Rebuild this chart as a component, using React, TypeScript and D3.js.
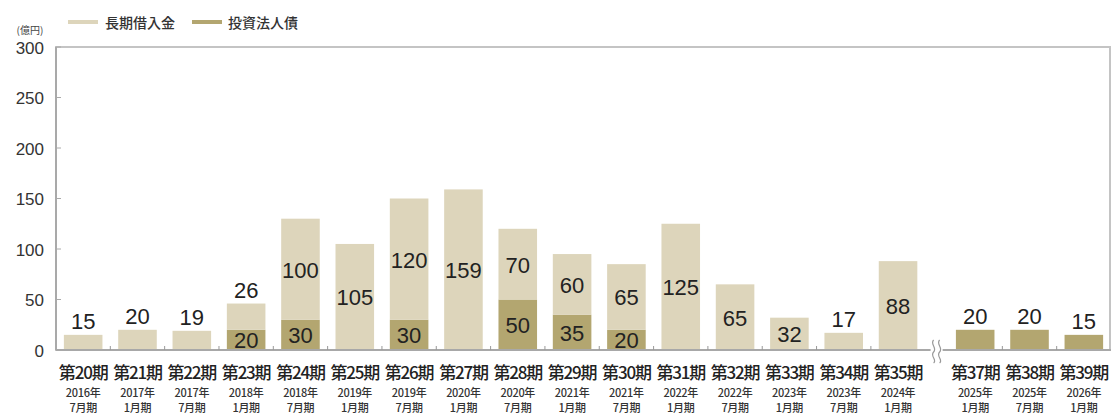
import React from "react";
import * as d3 from "d3";

const categories = ["第20期","第21期","第22期","第23期","第24期","第25期","第26期","第27期","第28期","第29期","第30期","第31期","第32期","第33期","第34期","第35期","第37期","第38期","第39期"];
const years = ["2016年","2017年","2017年","2018年","2018年","2019年","2019年","2020年","2020年","2021年","2021年","2022年","2022年","2023年","2023年","2024年","2025年","2025年","2026年"];
const months = ["7月期","1月期","7月期","1月期","7月期","1月期","7月期","1月期","7月期","1月期","7月期","1月期","7月期","1月期","7月期","1月期","1月期","7月期","1月期"];
const bonds = [0,0,0,20,30,0,30,0,50,35,20,0,0,0,0,0,20,20,15];
const loans = [15,20,19,26,100,105,120,159,70,60,65,125,65,32,17,88,0,0,0];
const yTicks = [0,50,100,150,200,250,300];
const seriesNames = ["長期借入金","投資法人債"];
const breakAfter = 15;

const W = 1111, H = 417;
const LEFT = 56, RIGHT = 1111, TOP = 47, BOTTOM = 350;
const GAP = 0.42;
const LIGHT = "#ddd5bb";
const DARK = "#b3a670";
const NUM_FONT = "'Liberation Sans', Arial, sans-serif";
const CJK_FONT = "'Noto Sans CJK JP', 'Noto Sans', sans-serif";

export default function App() {
  const rows = categories.map((c, i) => ({ cat: c, bond: bonds[i], loan: loans[i] }));
  const stack = d3.stack<any>().keys(["bond", "loan"]);
  const layers = stack(rows);
  const totalSlots = categories.length + GAP;
  const x = d3.scaleLinear().domain([0, totalSlots]).range([LEFT, RIGHT]);
  const slot = (i: number) => (i > breakAfter ? i + GAP : i);
  const step = x(1) - x(0);
  const bw = step * 0.71;
  const y = d3.scaleLinear().domain([0, 300]).range([BOTTOM, TOP]);
  const colors: Record<string, string> = { bond: DARK, loan: LIGHT };

  const breakX = x(breakAfter + 1 + GAP / 2);

  const xTicks: number[] = [];
  for (let i = 1; i < categories.length; i++) {
    if (i === breakAfter + 1) continue;
    xTicks.push(x(slot(i)));
  }

  const labels: any[] = [];
  layers.forEach((layer, li) => {
    layer.forEach((d, i) => {
      const v = d[1] - d[0];
      if (v <= 0) return;
      const isTop = layers.slice(li + 1).every((l) => l[i][1] - l[i][0] <= 0);
      const cx = x(slot(i) + 0.5);
      if (isTop && v < 30) {
        labels.push({ key: `${li}-${i}`, x: cx, y: y(d[1]) - 6, v, base: "auto" });
      } else {
        labels.push({ key: `${li}-${i}`, x: cx, y: y((d[0] + d[1]) / 2) + 1, v, base: "central" });
      }
    });
  });

  const wave = (x0: number) =>
    `M${x0},340 C${x0 - 4},344 ${x0 + 4},348 ${x0},352 C${x0 - 4},356 ${x0 + 4},360 ${x0},363`;

  return (
    <svg width={W} height={H} style={{ position: "absolute", left: 0, top: 0, background: "#fff" }}>
      <line x1={68} x2={98} y1={22} y2={22} stroke={LIGHT} strokeWidth={4} />
      <text x={105} y={22} dominantBaseline="central" fontFamily={CJK_FONT} fontSize={14} fontWeight={500} fill="#333">{seriesNames[0]}</text>
      <line x1={192} x2={222} y1={22} y2={22} stroke={DARK} strokeWidth={4} />
      <text x={228} y={22} dominantBaseline="central" fontFamily={CJK_FONT} fontSize={14} fontWeight={500} fill="#333">{seriesNames[1]}</text>
      <text x={30} y={29} textAnchor="middle" dominantBaseline="central" fontFamily={CJK_FONT} fontSize={10} fill="#444">(億円)</text>

      <rect x={LEFT} y={TOP} width={RIGHT - LEFT - 1} height={BOTTOM - TOP} fill="none" stroke="#c4c4c4" strokeWidth={2} />
      <line x1={LEFT} x2={LEFT} y1={TOP} y2={BOTTOM} stroke="#a0a0a0" strokeWidth={1.5} />

      {yTicks.map((t) => (
        <g key={t}>
          <line x1={LEFT} x2={LEFT + 5} y1={y(t)} y2={y(t)} stroke="#aaa" strokeWidth={1} />
          <text x={44} y={y(t) + 1} textAnchor="end" dominantBaseline="central" fontFamily={NUM_FONT} fontSize={17} fill="#333">{t}</text>
        </g>
      ))}

      {layers.map((layer) =>
        layer.map((d, i) =>
          d[1] - d[0] > 0 ? (
            <rect key={`${layer.key}-${i}`} x={x(slot(i) + 0.5) - bw / 2} y={y(d[1])} width={bw} height={y(d[0]) - y(d[1])} fill={colors[layer.key]} />
          ) : null
        )
      )}

      <line x1={LEFT} x2={RIGHT} y1={BOTTOM} y2={BOTTOM} stroke="#a8a8a8" strokeWidth={2} />
      {xTicks.map((tx, i) => (
        <line key={i} x1={tx} x2={tx} y1={BOTTOM - 4} y2={BOTTOM} stroke="#999" strokeWidth={1} />
      ))}
      <rect x={breakX - 6} y={BOTTOM - 3} width={12} height={6} fill="#fff" />
      <path d={wave(breakX - 3)} fill="none" stroke="#999" strokeWidth={1.2} />
      <path d={wave(breakX + 3)} fill="none" stroke="#999" strokeWidth={1.2} />

      {labels.map((l) => (
        <text key={l.key} x={l.x} y={l.y} textAnchor="middle" dominantBaseline={l.base} fontFamily={NUM_FONT} fontSize={22} fill="#222">{l.v}</text>
      ))}

      {categories.map((c, i) => {
        const cx = x(slot(i) + 0.5);
        return (
          <g key={c}>
            <text x={cx} y={371} textAnchor="middle" dominantBaseline="central" fontFamily={CJK_FONT} fontSize={17} fontWeight={500} letterSpacing={-1.2} fill="#222">{c}</text>
            <text x={cx} y={392} textAnchor="middle" dominantBaseline="central" fontFamily={CJK_FONT} fontSize={11} fontWeight={500} letterSpacing={-0.3} fill="#333">{years[i]}</text>
            <text x={cx} y={407} textAnchor="middle" dominantBaseline="central" fontFamily={CJK_FONT} fontSize={11} fontWeight={500} letterSpacing={-0.3} fill="#333">{months[i]}</text>
          </g>
        );
      })}
    </svg>
  );
}
